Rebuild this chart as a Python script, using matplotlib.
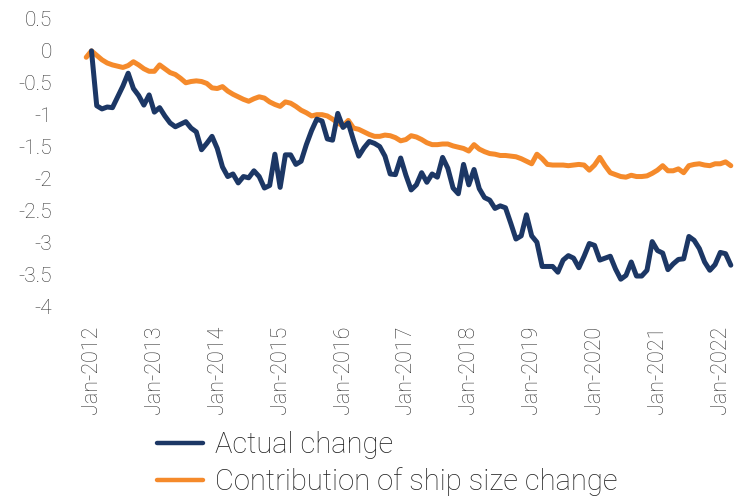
import matplotlib
matplotlib.use("Agg")
import matplotlib.pyplot as plt
import numpy as np

# ---- data ----
tick_labels = ["Jan-2012", "Jan-2013", "Jan-2014", "Jan-2015", "Jan-2016", "Jan-2017",
               "Jan-2018", "Jan-2019", "Jan-2020", "Jan-2021", "Jan-2022"]
y_ticks = [0.5, 0, -0.5, -1, -1.5, -2, -2.5, -3, -3.5, -4]
y_tick_labels = ["0.5", "0", "-0.5", "-1", "-1.5", "-2", "-2.5", "-3", "-3.5", "-4"]

# monthly, Jan-2012 .. Mar-2022
actual_change = [
    0.00, -0.86, -0.91, -0.88, -0.89, -0.72, -0.55, -0.35, -0.59, -0.70, -0.85, -0.69,
    -0.96, -0.89, -1.02, -1.13, -1.19, -1.15, -1.11, -1.21, -1.27, -1.55, -1.45, -1.34,
    -1.53, -1.82, -1.97, -1.93, -2.07, -1.97, -1.99, -1.88, -1.97, -2.15, -2.11, -1.62,
    -2.14, -1.63, -1.63, -1.78, -1.73, -1.47, -1.25, -1.07, -1.10, -1.38, -1.40, -0.98,
    -1.20, -1.13, -1.40, -1.65, -1.52, -1.42, -1.45, -1.50, -1.65, -1.93, -1.94, -1.68,
    -1.95, -2.18, -2.10, -1.91, -2.06, -1.93, -1.98, -1.67, -1.84, -2.15, -2.24, -1.78,
    -2.10, -1.86, -2.16, -2.30, -2.34, -2.47, -2.43, -2.46, -2.70, -2.95, -2.90, -2.57,
    -2.90, -3.00, -3.38, -3.38, -3.38, -3.47, -3.28, -3.21, -3.25, -3.40, -3.22, -3.02,
    -3.05, -3.28, -3.25, -3.22, -3.42, -3.58, -3.52, -3.31, -3.53, -3.53, -3.44, -2.99,
    -3.13, -3.17, -3.43, -3.34, -3.27, -3.26, -2.91, -2.97, -3.10, -3.31, -3.44, -3.35,
    -3.16, -3.18, -3.36,
]

# monthly, Dec-2011 .. Mar-2022
ship_size_contribution = [
    -0.10,
    0.00, -0.07, -0.14, -0.19, -0.22, -0.24, -0.26, -0.23, -0.17, -0.22, -0.28, -0.32,
    -0.32, -0.22, -0.28, -0.34, -0.37, -0.43, -0.50, -0.48, -0.47, -0.48, -0.51, -0.58,
    -0.59, -0.56, -0.63, -0.68, -0.72, -0.76, -0.79, -0.75, -0.72, -0.74, -0.80, -0.84,
    -0.87, -0.80, -0.82, -0.87, -0.93, -0.97, -1.02, -1.00, -1.00, -1.02, -1.07, -1.13,
    -1.18, -1.09, -1.21, -1.23, -1.27, -1.31, -1.34, -1.34, -1.32, -1.33, -1.36, -1.41,
    -1.39, -1.33, -1.35, -1.39, -1.44, -1.47, -1.47, -1.46, -1.46, -1.49, -1.51, -1.53,
    -1.57, -1.47, -1.54, -1.58, -1.61, -1.62, -1.64, -1.64, -1.65, -1.66, -1.69, -1.73,
    -1.77, -1.62, -1.69, -1.78, -1.79, -1.79, -1.79, -1.80, -1.79, -1.78, -1.79, -1.87,
    -1.79, -1.67, -1.80, -1.91, -1.94, -1.97, -1.98, -1.95, -1.97, -1.97, -1.96, -1.92,
    -1.87, -1.80, -1.88, -1.88, -1.85, -1.91, -1.80, -1.78, -1.77, -1.79, -1.80, -1.77,
    -1.77, -1.74, -1.80,
]

series_names = ["Actual change", "Contribution of ship size change"]

# ---- plot ----
BLUE = "#1c3765"
ORANGE = "#f58a2b"
TXT = "#333333"
plt.rcParams["font.family"] = ["Roboto", "DejaVu Sans"]

W, H = 737, 497
fig = plt.figure(figsize=(W / 100, H / 100), dpi=100)
left_px, right_px, top_px, bottom_px = 85.2, 735.0, 19.0, 306.0
ax = fig.add_axes([left_px / W, 1 - bottom_px / H,
                   (right_px - left_px) / W, (bottom_px - top_px) / H])

x_actual = np.arange(len(actual_change))
x_ship = np.arange(len(ship_size_contribution)) - 1

ax.plot(x_ship, ship_size_contribution, color=ORANGE, lw=3.6,
        solid_joinstyle="round", solid_capstyle="round", clip_on=False,
        label=series_names[1], zorder=2)
ax.plot(x_actual, actual_change, color=BLUE, lw=3.6,
        solid_joinstyle="round", solid_capstyle="round", clip_on=False,
        label=series_names[0], zorder=3)

ax.set_xlim(-1.2, 122.8)
ax.set_ylim(-4, 0.5)
ax.set_xticks(np.arange(len(tick_labels)) * 12)
ax.set_xticklabels(tick_labels, rotation=90, fontsize=15.5, color=TXT,
                   fontweight="light")
ax.set_yticks(y_ticks)
ax.set_yticklabels(y_tick_labels, fontsize=15, color=TXT, fontweight="light")
ax.tick_params(axis="y", length=0, pad=24)
ax.tick_params(axis="x", length=0, pad=14)
for s in ax.spines.values():
    s.set_visible(False)

handles, labels = ax.get_legend_handles_labels()
order = [1, 0]
leg = fig.legend([handles[i] for i in order], [labels[i] for i in order],
                 loc="upper left", bbox_to_anchor=(157 / W, 1 - 431 / H),
                 frameon=False, prop={"size": 21, "weight": "light"},
                 handlelength=1.58, handletextpad=0.4,
                 labelspacing=0.28, borderpad=0, borderaxespad=0)
for t in leg.get_texts():
    t.set_color("#222222")
for l in leg.get_lines():
    l.set_linewidth(3.2)
    l.set_solid_capstyle("round")

fig.savefig("out.png", dpi=100)
